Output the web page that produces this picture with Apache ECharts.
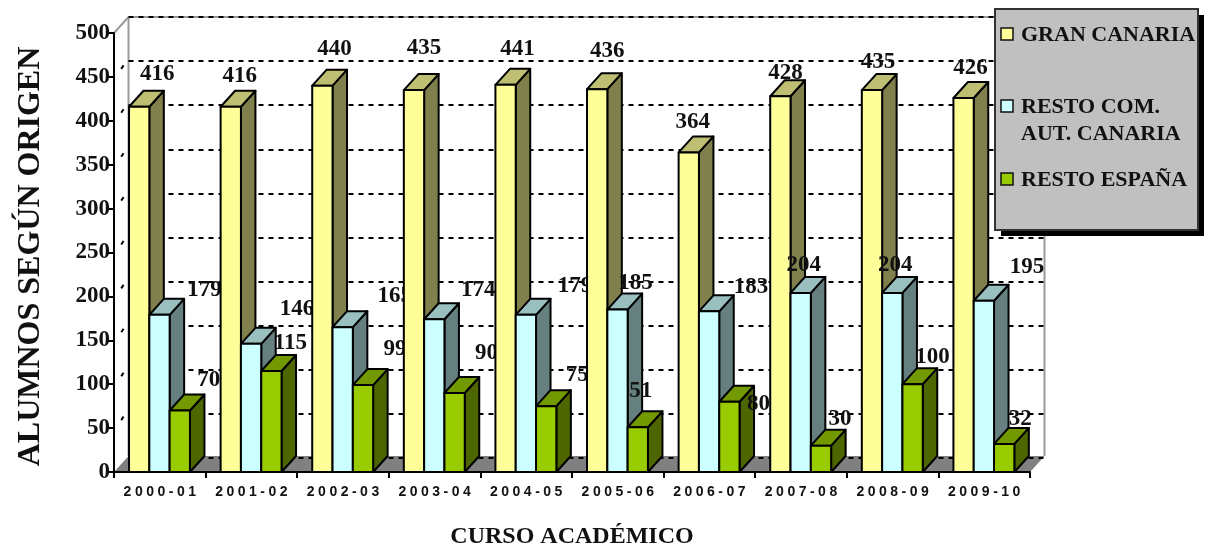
<!DOCTYPE html>
<html><head><meta charset="utf-8">
<style>html,body{margin:0;padding:0;background:#fff}#c{width:1208px;height:548px}</style>
<script src="https://cdn.jsdelivr.net/npm/echarts@6/dist/echarts.min.js"></script>
</head><body><div id="c"></div>
<script>
const categories = ['2000-01','2001-02','2002-03','2003-04','2004-05','2005-06','2006-07','2007-08','2008-09','2009-10'];
const seriesNames = ['GRAN CANARIA','RESTO COM.\nAUT. CANARIA','RESTO ESPAÑA'];
const granCanaria = [416,416,440,435,441,436,364,428,435,426];
const restoCom = [179,146,165,174,179,185,183,204,204,195];
const restoEspana = [70,115,99,90,75,51,80,30,100,32];
const yTicks = [50,100,150,200,250,300,350,400,450];
// hand-placed label offsets from the top centre of each bar [dx, dy]
const labelDx = [
  [18,9,12,10,12,10,4,5,6,7],
  [45,46,52,44,49,18,42,3,3,43],
  [29,19,32,32,31,3,29,19,20,16]];
const labelDy = [
  [-33,-31,-37,-42,-36,-38,-30,-23,-28,-30],
  [-25,-35,-31,-29,-29,-27,-24,-28,-28,-34],
  [-30,-28,-36,-40,-31,-36,2,-27,-27,-25]];
const front = ['#FFFF99','#CCFFFF','#99CC00'];
const topC = ['#BFBF73','#99BFBF','#739900'];
const side = ['#80804D','#668080','#4D6600'];
const SERIF = '"Liberation Serif","Times New Roman",serif';
const DX = 14.5, DY = 16;

function barRender(si){
  return function(params, api){
    const i = api.value(0), v = api.value(1);
    const base = api.coord([i,0]), top = api.coord([i,v]);
    const band = api.size([1,0])[0];
    const w = band*0.2217;
    const x0 = base[0]-band/2 + band*0.164 + si*w;
    const x1 = x0+w, yt = top[1], yb = base[1];
    const st = {stroke:'#000',lineWidth:2,lineJoin:'round'};
    const z = 10*i+2*si;
    const poly = (pts,fill)=>({type:'polygon',z2:z,shape:{points:pts},style:Object.assign({fill},st)});
    return {type:'group',children:[
      poly([[x1,yt],[x1+DX,yt-DY],[x1+DX,yb-DY],[x1,yb]],side[si]),
      poly([[x0,yt],[x0+DX,yt-DY],[x1+DX,yt-DY],[x1,yt]],topC[si]),
      poly([[x0,yt],[x1,yt],[x1,yb],[x0,yb]],front[si]),
      {type:'text',z2:z+1,style:{text:String(v),x:(x0+x1)/2+labelDx[si][i],y:yt+labelDy[si][i],
        align:'center',verticalAlign:'middle',fill:'#111',font:'bold 23px '+SERIF}}
    ]};
  };
}
function wallRender(params, api){
  const band = api.size([1,0])[0];
  const o = api.coord([0,0]), t = api.coord([0,500]);
  const L = o[0]-band/2, R = api.coord([9,0])[0]+band/2, B = o[1], T = t[1];
  const g = {stroke:'#999',lineWidth:2};
  const ch = [
    {type:'polygon',shape:{points:[[L,B],[L+DX,B-DY],[R+DX,B-DY],[R,B]]},style:{fill:'#808080'}},
    {type:'polyline',shape:{points:[[L,T],[L+DX,T-DY],[R+DX,T-DY]]},style:Object.assign({fill:null},g)},
    {type:'line',shape:{x1:L+DX,y1:T-DY,x2:L+DX,y2:B-DY},style:g},
    {type:'line',shape:{x1:R+DX,y1:T-DY,x2:R+DX,y2:B-DY},style:g}
  ];
  yTicks.forEach(v=>{
    const y = api.coord([0,v])[1];
    ch.push({type:'line',shape:{x1:L+DX*0.5,y1:y-DY*0.5,x2:L+DX*0.66,y2:y-DY*0.72},style:{stroke:'#000',lineWidth:2}});
  });
  return {type:'group',children:ch};
}
const legendRows = [[1001,28],[1001,100],[1001,173]];
const graphicEls = [
  {type:'rect',z:100,shape:{x:1001,y:15,width:203,height:221},style:{fill:'#000'}},
  {type:'rect',z:101,shape:{x:995,y:9,width:203,height:221},style:{fill:'#C0C0C0',stroke:'#333',lineWidth:2}}
];
seriesNames.forEach((n,k)=>{
  const r = legendRows[k];
  graphicEls.push({type:'rect',z:102,shape:{x:r[0],y:r[1],width:12,height:12},style:{fill:front[k],stroke:'#111',lineWidth:1.5}});
  graphicEls.push({type:'text',z:102,x:1021,y:r[1]-6,style:{text:n,font:'bold 22px '+SERIF,fill:'#111',lineHeight:27,align:'left',verticalAlign:'top'}});
});
const chart = echarts.init(document.getElementById('c'),null,{renderer:'canvas'});
chart.setOption({
  animation:false,
  backgroundColor:'#fff',
  graphic:{elements:graphicEls},
  grid:[
    {left:114,right:178,top:33,bottom:76,outerBoundsMode:'none'},
    {left:128.5,right:164,top:17,bottom:90,outerBoundsMode:'none'}
  ],
  xAxis:[
    {type:'category',gridIndex:0,data:categories,z:8,
     axisLine:{lineStyle:{color:'#000',width:2}},
     axisTick:{show:true,length:6,lineStyle:{color:'#000',width:2}},
     axisLabel:{margin:13,interval:0,color:'#111',fontFamily:'"Liberation Sans",Arial,sans-serif',fontWeight:'bold',fontSize:14,
       formatter:s=>s.split('').join('\u2005')},
     name:'CURSO ACADÉMICO',nameLocation:'middle',nameGap:53,
     nameTextStyle:{color:'#111',fontFamily:SERIF,fontWeight:'bold',fontSize:24}},
    {type:'category',gridIndex:1,data:categories,show:false}
  ],
  yAxis:[
    {type:'value',gridIndex:0,min:0,max:500,interval:50,z:8,
     axisLine:{show:true,lineStyle:{color:'#000',width:2}},
     axisTick:{show:true,length:8,lineStyle:{color:'#000',width:2}},
     splitLine:{show:false},
     axisLabel:{margin:4,color:'#111',fontFamily:SERIF,fontWeight:'bold',fontSize:23},
     name:'ALUMNOS SEGÚN ORIGEN',nameLocation:'middle',nameGap:67,
     nameTextStyle:{color:'#111',fontFamily:SERIF,fontWeight:'bold',fontSize:32,padding:[0,8,0,0]}},
    {type:'value',gridIndex:1,min:0,max:500,interval:50,z:3,
     axisLine:{show:false},axisTick:{show:false},axisLabel:{show:false},
     splitLine:{show:true,lineStyle:{color:'#000',width:2,type:[5,5]}}}
  ],
  series:[
    {type:'custom',name:'walls',z:1,silent:true,clip:false,xAxisIndex:0,yAxisIndex:0,data:[[0,0]],renderItem:wallRender},
    ...[granCanaria,restoCom,restoEspana].map((arr,si)=>({
      type:'custom',name:seriesNames[si],z:5,clip:false,silent:true,xAxisIndex:0,yAxisIndex:0,
      encode:{x:0,y:1},
      data:arr.map((v,i)=>[i,v]),
      renderItem:barRender(si)
    }))
  ]
});
</script></body></html>
